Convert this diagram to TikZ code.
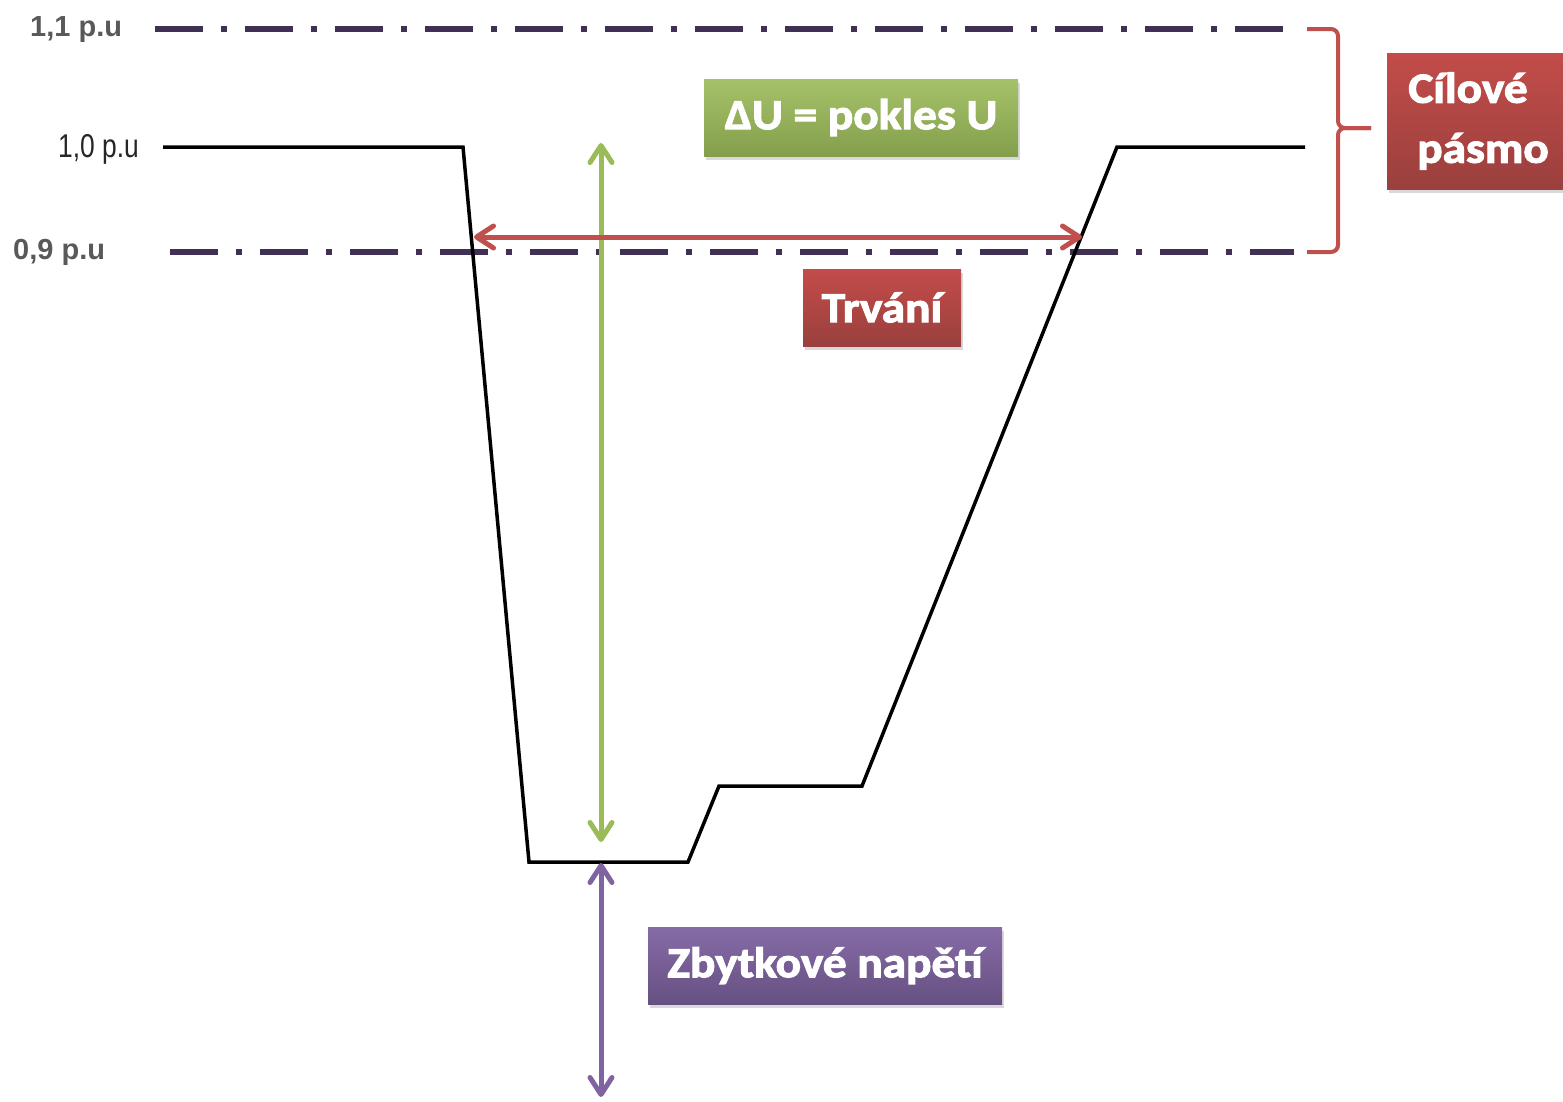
\documentclass[tikz,border=0pt]{standalone}
\usepackage{fontspec}
\setmainfont{Liberation Sans}
\newfontfamily\boxfont[FakeStretch=1.1,FakeBold=2.5]{Carlito}
\usetikzlibrary{arrows.meta,shadows,calc}
\definecolor{lvl}{RGB}{64,49,84}
\definecolor{ogreen}{RGB}{155,187,89}
\definecolor{ored}{RGB}{192,80,77}
\definecolor{opurple}{RGB}{128,100,162}
\definecolor{lblgray}{RGB}{89,89,89}
\tikzset{
  level/.style={lvl, line width=6pt, dash pattern=on 48pt off 18pt on 6pt off 18pt},
  curve/.style={black, line width=3.5pt, line join=miter},
  dbl/.style={line width=5pt, {Straight Barb[length=17pt,width=22pt,line cap=round,line join=round]}-{Straight Barb[length=17pt,width=22pt,line cap=round,line join=round]}},
  brace/.style={ored, line width=4pt, rounded corners=7pt},
  pu/.style={inner sep=0pt, anchor=base west, text=lblgray, font=\bfseries\fontsize{29}{31}\selectfont},
  tag/.style={minimum height=77pt, inner sep=0pt, text=white,
     font=\boxfont\bfseries\fontsize{43}{60}\selectfont,
     drop shadow={shadow xshift=2pt, shadow yshift=-4pt, opacity=0.3}},
  greentag/.style={tag, top color=ogreen!90!white, bottom color=ogreen!85!black},
  redtag/.style={tag, top color=ored!95!red, bottom color=ored!80!black},
  purpletag/.style={tag, top color=opurple!95!white, bottom color=opurple!80!black},
}
\begin{document}
\begin{tikzpicture}[x=1pt,y=-1pt]
\useasboundingbox (0,0) rectangle (1563,1101);
% reference levels
\draw[level] (155,29) -- (1284,29);
\draw[level] (170,252) -- (1294,252);
\node[pu] (l11) at (30,36) {1,1 p.u};
\node[pu] (l09) at (13,259) {0,9 p.u};
\node[inner sep=0pt, anchor=base west, text=black!85, font=\fontsize{33}{35}\selectfont] (l10) at (58,157) {\scalebox{0.8}[1]{1,0 p.u}};
% voltage curve
\draw[curve] (163,147) -- (463,147) -- (529,862) -- (688,862) -- (719,786) -- (862,786) -- (1117,147) -- (1305,147);
% arrows
\coordinate (gtop) at (601,143);
\coordinate (gbot) at (601,842);
\coordinate (ptop) at (601,863);
\coordinate (pbot) at (601,1097);
\coordinate (rl) at (474,237);
\coordinate (rr) at (1082,237);
\draw[dbl, ogreen] (gtop) -- (gbot);
\draw[dbl, opurple] (ptop) -- (pbot);
\draw[dbl, ored] (rl) -- (rr);
% brace
\coordinate (bt) at (1307,29);
\coordinate (bb) at (1307,252);
\coordinate (bm) at (1338,128);
\coordinate (bp) at (1371,128);
\draw[brace] (bt) -| (bm) -- (bp);
\draw[brace] (bb) -| (bm) -- (bp);
% boxes
\node[greentag, minimum width=314pt] (dU) at (861,117.5) {ΔU = pokles U};
\node[redtag, minimum width=158pt] (trv) at (882,307.5) {Trvání};
\node[purpletag, minimum width=354pt] (zb) at (825,965.5) {Zbytkové napětí};
\node[redtag, minimum width=192pt, minimum height=136pt, align=center] (cp) at (1483,121) {\hspace*{-30pt}Cílové\\pásmo};
\end{tikzpicture}
\end{document}
